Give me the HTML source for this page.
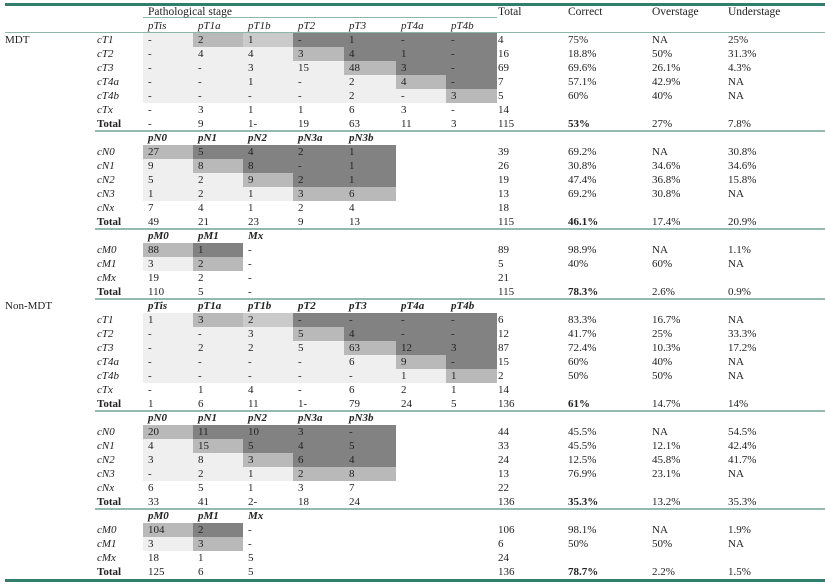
<!DOCTYPE html>
<html><head><meta charset="utf-8">
<style>
body{margin:0;background:#fff;}
#t{position:relative;width:825px;height:585px;overflow:hidden;font-family:"Liberation Serif",serif;font-size:11px;color:#222;}
.c{position:absolute;height:14px;line-height:14px;white-space:nowrap;}
.i{font-style:italic;}
.b{font-weight:bold;}
.h{font-size:11.5px;}
.ln{position:absolute;}
</style></head><body>
<div id="t"></div>
<script>
const colX=[143,193,243,293,344,396,446,497];
const rightX=[498,568,652,728];
const rowH=14, top0=5;
const groups=["MDT","Non-MDT"];
const tCols=["pTis","pT1a","pT1b","pT2","pT3","pT4a","pT4b"];
const nCols=["pN0","pN1","pN2","pN3a","pN3b"];
const mCols=["pM0","pM1","Mx"];
const tRows=["cT1","cT2","cT3","cT4a","cT4b","cTx","Total"];
const nRows=["cN0","cN1","cN2","cN3","cNx","Total"];
const mRows=["cM0","cM1","cMx","Total"];
const tShade=[["L","M","m","D","D","D","D"],["L","L","L","M","D","D","D"],["L","L","L","L","M","D","D"],["L","L","L","L","L","M","D"],["L","L","L","L","L","L","M"],[],[]];
const nShade=[["M","D","D","D","D"],["L","M","D","D","D"],["L","L","M","D","D"],["L","L","L","M","M"],[],[]];
const mShade=[["M","D"],["L","M"],[],[]];
const mdtT=[["-","2","1","-","1","-","-"],["-","4","4","3","4","1","-"],["-","-","3","15","48","3","-"],["-","-","1","-","2","4","-"],["-","-","-","-","2","-","3"],["-","3","1","1","6","3","-"],["-","9","1-","19","63","11","3"]];
const mdtTR=[["4","75%","NA","25%"],["16","18.8%","50%","31.3%"],["69","69.6%","26.1%","4.3%"],["7","57.1%","42.9%","NA"],["5","60%","40%","NA"],["14","","",""],["115","53%","27%","7.8%"]];
const mdtN=[["27","5","4","2","1"],["9","8","8","-","1"],["5","2","9","2","1"],["1","2","1","3","6"],["7","4","1","2","4"],["49","21","23","9","13"]];
const mdtNR=[["39","69.2%","NA","30.8%"],["26","30.8%","34.6%","34.6%"],["19","47.4%","36.8%","15.8%"],["13","69.2%","30.8%","NA"],["18","","",""],["115","46.1%","17.4%","20.9%"]];
const mdtM=[["88","1","-"],["3","2","-"],["19","2","-"],["110","5","-"]];
const mdtMR=[["89","98.9%","NA","1.1%"],["5","40%","60%","NA"],["21","","",""],["115","78.3%","2.6%","0.9%"]];
const nonT=[["1","3","2","-","-","-","-"],["-","-","3","5","4","-","-"],["-","2","2","5","63","12","3"],["-","-","-","-","6","9","-"],["-","-","-","-","-","1","1"],["-","1","4","-","6","2","1"],["1","6","11","1-","79","24","5"]];
const nonTR=[["6","83.3%","16.7%","NA"],["12","41.7%","25%","33.3%"],["87","72.4%","10.3%","17.2%"],["15","60%","40%","NA"],["2","50%","50%","NA"],["14","","",""],["136","61%","14.7%","14%"]];
const nonN=[["20","11","10","3","-"],["4","15","5","4","5"],["3","8","3","6","4"],["-","2","1","2","8"],["6","5","1","3","7"],["33","41","2-","18","24"]];
const nonNR=[["44","45.5%","NA","54.5%"],["33","45.5%","12.1%","42.4%"],["24","12.5%","45.8%","41.7%"],["13","76.9%","23.1%","NA"],["22","","",""],["136","35.3%","13.2%","35.3%"]];
const nonM=[["104","2","-"],["3","3","-"],["18","1","5"],["125","6","5"]];
const nonMR=[["106","98.1%","NA","1.9%"],["6","50%","50%","NA"],["24","","",""],["136","78.7%","2.2%","1.5%"]];
const shadeCol={L:"#efefef",M:"#b9b9b9",m:"#cacaca",D:"#828282"};

const T=document.getElementById('t');
function yOf(r){return top0+r*rowH;}
function txt(x,r,s,cls,name){
  const d=document.createElement('div');
  d.className='c '+(cls||'');
  d.style.left=x+'px';d.style.top=yOf(r)+'px';
  d.textContent=s;
  
  
  T.appendChild(d);
}
function box(x,y,w,h,col,name){
  const d=document.createElement('div');
  d.className='ln';
  d.style.left=x+'px';d.style.top=y+'px';d.style.width=w+'px';d.style.height=h+'px';d.style.background=col;
  
  
  T.appendChild(d);
}
function block(r0,cols,rows,shade,vals,rvals,hdrCls,prefix){
  cols.forEach((c,j)=>txt(colX[j]+5,r0,c,hdrCls,prefix+'-header-'+c));
  rows.forEach((rl,i)=>{
    const r=r0+1+i;
    const isTot=rl==="Total";
    (shade[i]||[]).forEach((s,j)=>{ if(s) box(colX[j],yOf(r),colX[j+1]-colX[j],rowH,shadeCol[s],prefix+'-cell-shade'); });
    txt(97,r,rl,isTot?'b':'i',prefix+'-row-label');
    vals[i].forEach((v,j)=>txt(colX[j]+5,r,v,'',prefix+'-value'));
    rvals[i].forEach((v,k)=>txt(rightX[k],r,v,(isTot&&k===1)?'b':'',prefix+'-summary'));
  });
}
box(5,3,820,2.5,"#2f7f6c",'top-rule');
box(5,31.5,820,1.2,"#8cb5ab",'header-rule');
box(143,17,354,1,"#8cb5ab",'pathological-stage-rule');
[131,229,299,411,509].forEach(y=>box(95,y-1,730,1.8,"#93bab0",'section-rule'));
box(5,579,820,2.5,"#2f7f6c",'bottom-rule');
txt(148,0,"Pathological stage",'h','pathological-stage-header');
["Total","Correct","Overstage","Understage"].forEach((h,k)=>txt(rightX[k],0,h,'h','summary-header-'+h.toLowerCase()));
txt(5,2,groups[0],'','group-label-mdt');
txt(5,21,groups[1],'','group-label-non-mdt');
block(1,tCols,tRows,tShade,mdtT,mdtTR,'i','mdt-t');
block(9,nCols,nRows,nShade,mdtN,mdtNR,'i b','mdt-n');
block(16,mCols,mRows,mShade,mdtM,mdtMR,'i b','mdt-m');
block(21,tCols,tRows,tShade,nonT,nonTR,'i b','non-mdt-t');
block(29,nCols,nRows,nShade,nonN,nonNR,'i b','non-mdt-n');
block(36,mCols,mRows,mShade,nonM,nonMR,'i b','non-mdt-m');
</script>
</body></html>
